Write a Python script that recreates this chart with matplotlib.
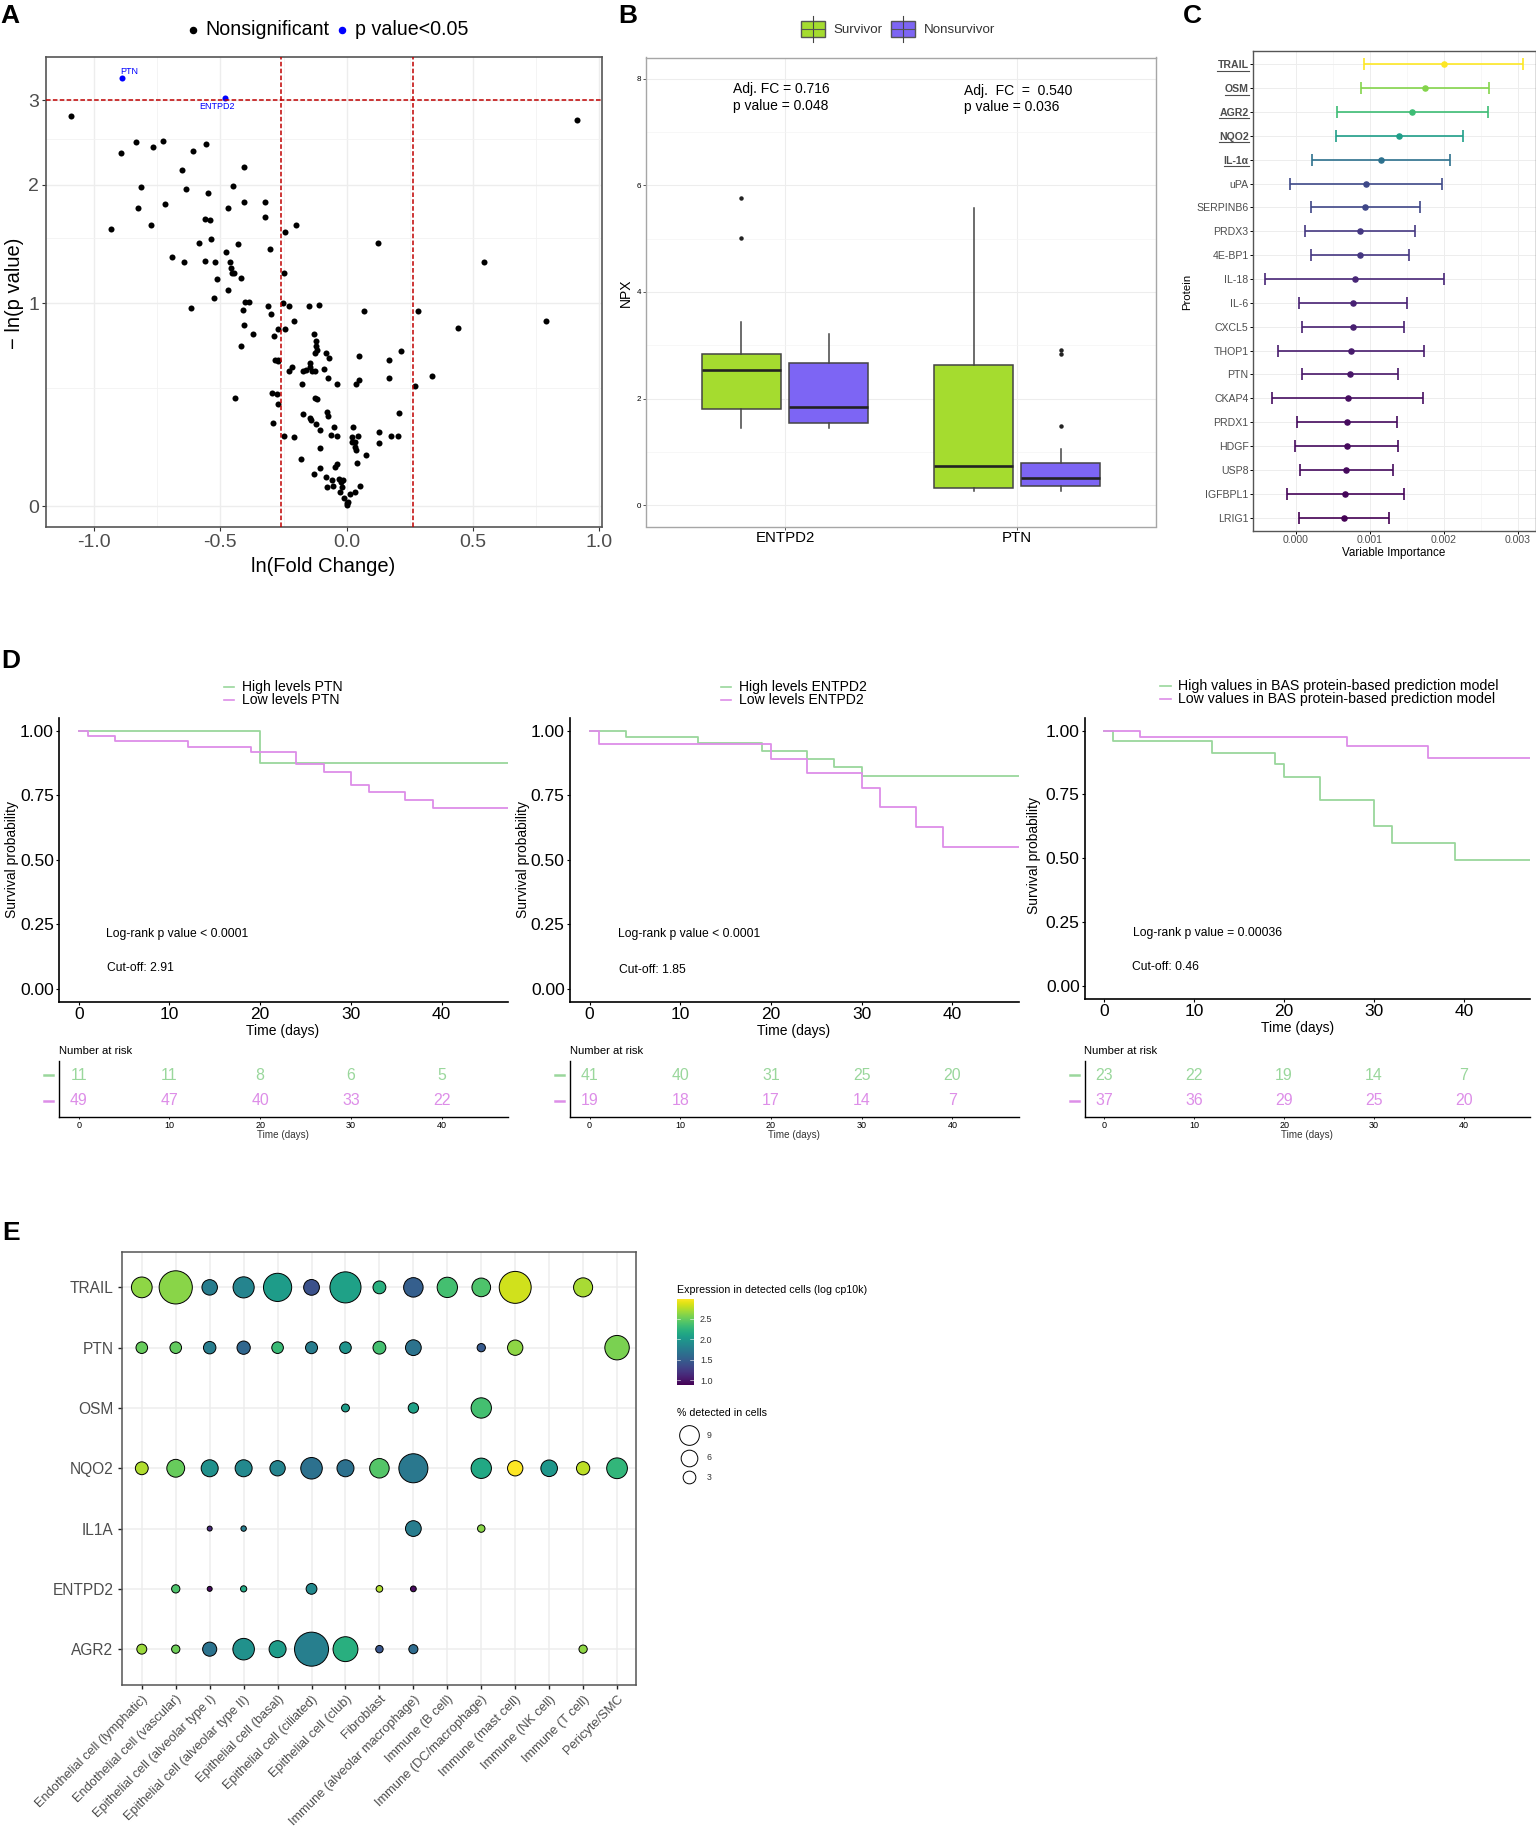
import numpy as np
import matplotlib
matplotlib.use("Agg")
import matplotlib.pyplot as plt
from matplotlib.lines import Line2D
from matplotlib.patches import Rectangle
from matplotlib.transforms import IdentityTransform

W, H = 1536, 1829
plt.rcParams["font.family"] = ["Liberation Sans", "DejaVu Sans"]

# A: volcano plot
volcano_fc = [-1.091, .912, -.834, -.728, -.765, -.556, -.892, -.610, -.651, -.407, -.449, -.814, -.635, -.549,
              -.718, -.408, -.324, -.828, -.469, -.324, -.559, -.543, -.773, -.200, -.931, -.244, -.538, -.585,
              -.432, .125, -.302, -.476, -.690, -.646, -.559, -.520, -.462, .543, -.457, -.455, -.446, -.247,
              -.512, -.419, -.471, -.526, -.402, -.388, -.254, -.108, -.311, -.230, -.150, -.617, -.412, .067,
              .282, -.299, -.207, .789, -.408, .440, -.271, -.243, -.369, -.286, -.128, -.120, -.418, -.120,
              -.119, -.124, -.083, .216, .047, -.069, -.282, -.271, -.274, .166, -.144, -.144, -.218, -.227,
              -.175, -.160, -.139, -.125, -.091, -.074, .166, .338, -.178, -.039, .050, .038, .271, -.296,
              -.277, -.443, -.127, -.116, -.274, -.078, -.074, .207, -.175, -.144, -.141, -.291, -.120, -.052,
              .025, -.106, .128, -.064, -.038, .045, .174, .202, -.249, -.207, .019, .019, .031, .128, .033,
              -.105, .036, .078, -.182, .041, -.038, -.047, -.106, -.130, -.083, -.030, -.013, -.059, -.023,
              -.017, -.055, -.077, .052, -.028, .031, .011, -.009, .006, 0.0, .003]
volcano_p = [2.786, 2.743, 2.474, 2.48, 2.41, 2.44, 2.34, 2.36, 2.15, 2.18, 1.99, 1.97, 1.95, 1.91,
             1.81, 1.83, 1.83, 1.77, 1.77, 1.69, 1.67, 1.66, 1.61, 1.61, 1.58, 1.55, 1.49, 1.46,
             1.45, 1.46, 1.41, 1.38, 1.34, 1.30, 1.31, 1.30, 1.30, 1.30, 1.26, 1.22, 1.22, 1.22,
             1.17, 1.18, 1.09, 1.04, 1.01, 1.01, 1.00, .99, .985, .985, .98, .97, .955, .95,
             .95, .93, .88, .88, .855, .84, .835, .83, .80, .79, .80, .76, .73, .73,
             .705, .69, .69, .70, .67, .66, .65, .65, .64, .65, .63, .61, .61, .59,
             .59, .595, .59, .59, .60, .55, .55, .56, .52, .52, .54, .52, .506, .475,
             .47, .45, .45, .445, .42, .38, .36, .377, .37, .354, .345, .33, .326, .31,
             .31, .30, .29, .276, .27, .273, .273, .273, .27, .268, .268, .244, .244, .242, .225,
             .22, .212, .19, .174, .159, .155, .143, .141, .118, .105, .097, .093, .093, .086,
             .070, .073, .070, .073, .050, .051, .043, .030, .015, .004, .010]
sig_names = ["PTN", "ENTPD2"]
sig_fc = [-.890, -.482]
sig_p = [3.32, 3.03]
sig_label_x = [-.895, -.582]
sig_label_y = [3.42, 2.92]

# B: boxplots
box_genes = ["ENTPD2", "PTN"]
surv_q1 = [1.81, .334]
surv_med = [2.535, .743]
surv_q3 = [2.83, 2.64]
surv_lo = [1.46, .27]
surv_hi = [3.44, 5.57]
surv_out = [[5.76, 5.02], []]
non_q1 = [1.54, .368]
non_med = [1.85, .518]
non_q3 = [2.67, .797]
non_lo = [1.46, .27]
non_hi = [3.22, 1.056]
non_out = [[], [1.48, 2.84, 2.92]]

# C: variable importance
proteins = ["TRAIL", "OSM", "AGR2", "NQO2", "IL-1α", "uPA", "SERPINB6", "PRDX3", "4E-BP1", "IL-18",
            "IL-6", "CXCL5", "THOP1", "PTN", "CKAP4", "PRDX1", "HDGF", "USP8", "IGFBPL1", "LRIG1"]
vi_low = [.000928, .000883, .000554, .000545, .000216, -.000072, .000203, .000126, .000207, -.00041,
          .000045, .00009, -.000239, .000086, -.000315, .000018, -.000005, .000059, -.000117, .000041]
vi_mean = [.0020, .001748, .001577, .001401, .001149, .00095, .000941, .000869, .000865, .000797,
           .000775, .00077, .000748, .00073, .000703, .000694, .000689, .000685, .000671, .000653]
vi_high = [.003077, .002613, .002599, .002257, .002081, .001973, .00168, .001613, .001527, .002005,
           .001509, .001464, .001734, .001378, .001725, .001374, .001383, .00132, .001464, .001266]

# D: survival curves
km1_hi_t = [0, 20]
km1_hi_s = [1.0, .875]
km1_lo_t = [0, 1, 4, 12, 19, 24, 27, 30, 32, 36, 39]
km1_lo_s = [1.0, .98, .96, .938, .916, .87, .84, .79, .763, .733, .70]
km2_hi_t = [0, 4, 12, 19, 24, 27, 30]
km2_hi_s = [1.0, .974, .951, .923, .89, .858, .825]
km2_lo_t = [0, 1, 20, 24, 30, 32, 36, 39]
km2_lo_s = [1.0, .947, .89, .835, .778, .705, .627, .55]
km3_hi_t = [0, 1, 12, 19, 20, 24, 30, 32, 39]
km3_hi_s = [1.0, .958, .913, .868, .82, .73, .625, .56, .4935]
km3_lo_t = [0, 4, 27, 36]
km3_lo_s = [1.0, .973, .938, .893]
risk_times = [0, 10, 20, 30, 40]
risk1_hi = [11, 11, 8, 6, 5]
risk1_lo = [49, 47, 40, 33, 22]
risk2_hi = [41, 40, 31, 25, 20]
risk2_lo = [19, 18, 17, 14, 7]
risk3_hi = [23, 22, 19, 14, 7]
risk3_lo = [37, 36, 29, 25, 20]

# E: dot plot
cell_types = ["Endothelial cell (lymphatic)", "Endothelial cell (vascular)", "Epithelial cell (alveolar type I)",
              "Epithelial cell (alveolar type II)", "Epithelial cell (basal)", "Epithelial cell (ciliated)",
              "Epithelial cell (club)", "Fibroblast", "Immune (alveolar macrophage)", "Immune (B cell)",
              "Immune (DC/macrophage)", "Immune (mast cell)", "Immune (NK cell)", "Immune (T cell)", "Pericyte/SMC"]
genes = ["AGR2", "ENTPD2", "IL1A", "NQO2", "OSM", "PTN", "TRAIL"]
n = None
pct_trail = [10.15, 29.6, 5.0, 10.6, 20.6, 5.22, 25.6, 3.09, 8.77, 9.69, 7.9, 27.2, n, 8.33, n]
expr_trail = [2.62, 2.6, 1.76, 1.83, 2.03, 1.41, 2.08, 2.2, 1.51, 2.35, 2.39, 2.82, n, 2.7, n]
pct_ptn = [2.35, 2.35, 2.84, 3.37, 2.35, 2.59, 2.35, 3.09, 5.22, n, .87, 4.88, n, n, 14.9]
expr_ptn = [2.49, 2.47, 1.76, 1.58, 2.3, 1.76, 1.97, 2.35, 1.68, n, 1.47, 2.62, n, n, 2.55]
pct_osm = [n, n, n, n, n, n, .74, n, 1.71, n, 9.69, n, n, n, n]
expr_osm = [n, n, n, n, n, n, 2.03, n, 2.08, n, 2.35, n, n, n, n]
pct_nqo2 = [3.09, 7.08, 6.3, 6.3, 4.88, 11.1, 6.3, 8.77, 22.0, n, 9.69, 4.88, 5.93, 3.37, 10.15]
expr_nqo2 = [2.72, 2.49, 1.93, 1.87, 1.83, 1.66, 1.66, 2.41, 1.72, n, 2.14, 2.97, 1.99, 2.76, 2.26]
pct_il1a = [n, n, .11, .17, n, n, n, n, 5.22, n, .61, n, n, n, n]
expr_il1a = [n, n, 1.14, 1.76, n, n, n, n, 1.76, n, 2.6, n, n, n, n]
pct_entpd2 = [n, .87, .11, .31, n, 1.92, n, .40, .23, n, n, n, n, n, n]
expr_entpd2 = [n, 2.39, .95, 2.14, n, 1.87, n, 2.72, .95, n, n, n, n, n, n]
pct_agr2 = [1.52, .87, 3.94, 11.1, 6.3, 31.3, 15.5, .61, 1.17, n, n, n, n, .87, n]
expr_agr2 = [2.66, 2.51, 1.68, 1.93, 2.03, 1.78, 2.2, 1.45, 1.62, n, n, n, n, 2.62, n]
size_legend = [3, 6, 9]

GREEN = "#9ad79c"
PINK = "#dd8ee8"
GRAY = "#4d4d4d"
GRID = "#ededed"
BORDER = "#555555"

fig = plt.figure(figsize=(W / 100, H / 100), dpi=100)


def px_axes(left, top, right, bottom):
    return fig.add_axes([left / W, 1 - bottom / H, (right - left) / W, (bottom - top) / H])


def ftext(x, y, s, **kw):
    # one px lower than asked, va center sits high with descenders
    kw.setdefault("va", "center")
    kw.setdefault("ha", "left")
    return fig.text(x / W, 1 - (y + 1) / H, s, **kw)


def fline(xs, ys, **kw):
    fig.add_artist(Line2D([x / W for x in xs], [1 - y / H for y in ys], transform=fig.transFigure, **kw))


def bw_style(ax, lw=1.1):
    for sp in ax.spines.values():
        sp.set_color(BORDER)
        sp.set_linewidth(lw)
    ax.set_axisbelow(True)


def dot_size(pct):
    # diameter in px against % detected, squared into points
    d = 3.14 + 5.52 * np.sqrt(pct)
    return (d * 0.72) ** 2


for lab, x, y in [("A", 0, 15), ("B", 618, 15), ("C", 1183, 15), ("D", 1, 660), ("E", 2, 1232)]:
    ftext(x, y, lab, fontsize=19, fontweight="bold", color="black")

# panel A
ax = px_axes(46.3, 56.8, 602.2, 526.7)
bw_style(ax, 1.2)
ax.set_yscale("function", functions=(np.log1p, np.expm1))
ax.scatter(volcano_fc, volcano_p, s=19, color="black", linewidths=0, zorder=3)
ax.scatter(sig_fc, sig_p, s=19, color="#0000ff", linewidths=0, zorder=3)
for name, lx, ly in zip(sig_names, sig_label_x, sig_label_y):
    ax.text(lx, ly, name, color="#0000ff", fontsize=6.5, va="center", ha="left")
ax.axhline(3, color="#c00000", ls="--", lw=1.1, dashes=(3, 1.5), zorder=4)
ax.axvline(-.261, color="#c00000", ls="--", lw=1.1, dashes=(3, 1.5), zorder=4)
ax.axvline(.263, color="#c00000", ls="--", lw=1.1, dashes=(3, 1.5), zorder=4)
ax.set_xlim(-1.189, 1.011)
ax.set_ylim(-0.067, 3.64)
ax.set_xticks([-1, -.5, 0, .5, 1], ["-1.0", "-0.5", "0.0", "0.5", "1.0"])
ax.set_yticks([0, 1, 2, 3])
ax.set_xticks([-.75, -.25, .25, .75], minor=True)
ax.set_yticks([.5, 1.5, 2.5], minor=True)
ax.tick_params(which="major", labelsize=14, labelcolor=GRAY, length=3, width=.8, color="#333333", pad=2)
ax.tick_params(which="minor", length=0)
ax.grid(True, which="major", color=GRID, lw=1)
ax.grid(True, which="minor", color="#f2f2f2", lw=.6)
ax.set_axisbelow(True)
ftext(323.5, 565, "ln(Fold Change)", fontsize=14.5, ha="center")
ftext(15, 292, "− ln(p value)", fontsize=14.5, ha="center", rotation=90)
fig.add_artist(Line2D([192.6 / W], [1 - 29.6 / H], marker="o", ms=4.4, color="black", ls="", transform=fig.transFigure))
ftext(205, 28.6, "Nonsignificant", fontsize=14.1)
fig.add_artist(Line2D([342.4 / W], [1 - 29.6 / H], marker="o", ms=4.4, color="#0000ff", ls="", transform=fig.transFigure))
ftext(355, 28.6, "p value<0.05", fontsize=14.1)

# panel B
ax = px_axes(645.7, 57.5, 1156.4, 526.5)
ax.set_axisbelow(True)
ax.spines[:].set_color("#a6a6a6")
ax.spines[:].set_linewidth(1.0)
for q1, med, q3, lo, hi, out, off, col in [
        (surv_q1, surv_med, surv_q3, surv_lo, surv_hi, surv_out, -.1875, "#a5dc2f"),
        (non_q1, non_med, non_q3, non_lo, non_hi, non_out, .1875, "#7d65f4")]:
    stats = [dict(med=med[i], q1=q1[i], q3=q3[i], whislo=lo[i], whishi=hi[i], fliers=out[i]) for i in range(2)]
    ax.bxp(stats, positions=[1 + off, 2 + off], widths=.3375, patch_artist=True, showcaps=False,
           boxprops=dict(facecolor=col, edgecolor="#444444", lw=1.1),
           medianprops=dict(color="#222222", lw=1.9),
           whiskerprops=dict(color="#444444", lw=1.1),
           flierprops=dict(marker="o", ms=2.2, mfc="#222222", mec="#222222"),
           manage_ticks=False, zorder=3)
ax.text(.776, 7.80, "Adj. FC = 0.716", fontsize=10, va="center")
ax.text(.776, 7.48, "p value = 0.048", fontsize=10, va="center")
ax.text(1.773, 7.77, "Adj.  FC  =  0.540", fontsize=10, va="center")
ax.text(1.773, 7.46, "p value = 0.036", fontsize=10, va="center")
ax.set_xlim(.4, 2.6)
ax.set_ylim(-.395, 8.395)
ax.set_xticks([1, 2], box_genes)
ax.set_yticks([0, 2, 4, 6, 8])
ax.set_yticks([1, 3, 5, 7], minor=True)
ax.tick_params(axis="x", labelsize=10.8, length=2, width=.7, color="#555555", pad=1.5)
ax.tick_params(axis="y", labelsize=5.8, length=2, width=.7, color="#555555", pad=1.5)
ax.tick_params(which="minor", length=0)
ax.grid(True, which="major", color=GRID, lw=.8)
ax.grid(True, which="minor", axis="y", color="#f4f4f4", lw=.5)
ftext(626, 292, "NPX", fontsize=10, ha="center", rotation=90)
for x0, col, name, tx in [(800.7, "#a5dc2f", "Survivor", 833), (891, "#7d65f4", "Nonsurvivor", 923.6)]:
    fline([x0 + 12, x0 + 12], [15.6, 41.8], color="#444444", lw=.8)
    fig.add_artist(Rectangle((x0 / W, 1 - 37 / H), 24 / W, 16.3 / H, facecolor=col, edgecolor="#555555", lw=1,
                             transform=fig.transFigure))
    fline([x0, x0 + 24], [28.8, 28.8], color="#555555", lw=.8)
    ftext(tx, 28.7, name, fontsize=9.6, color="#333333")

# panel C
ax = px_axes(1252.7, 50.9, 1536, 531)
bw_style(ax, 1.0)
ypos = list(range(len(proteins), 0, -1))
norm = plt.Normalize(min(vi_mean), max(vi_mean))
for y, lo, m, hi in zip(ypos, vi_low, vi_mean, vi_high):
    c = plt.cm.viridis(norm(m))
    ax.errorbar(m, y, xerr=[[m - lo], [hi - m]], color=c, lw=1.2, capsize=4.6, capthick=1.2,
                marker="o", ms=3.7, zorder=3)
ax.set_xlim(-.000581, .00325)
ax.set_ylim(.44, 20.56)
ax.set_yticks(ypos, proteins)
ax.set_xticks([0, .001, .002, .003], ["0.000", "0.001", "0.002", "0.003"])
ax.set_xticks([.0005, .0015, .0025], minor=True)
ax.tick_params(labelsize=7.6, labelcolor=GRAY, length=2, width=.7, pad=1)
ax.tick_params(which="minor", length=0)
ax.grid(True, which="major", color=GRID, lw=.7)
ax.grid(True, which="minor", color="#f2f2f2", lw=.4)
c_labels = ax.get_yticklabels()
for lab in c_labels[:5]:
    lab.set_fontweight("bold")
ftext(1394, 551.6, "Variable Importance", fontsize=8.4, ha="center")
ftext(1187, 291, "Protein", fontsize=8.2, ha="center", rotation=90)

# panel D
km_panels = [
    dict(left=58.8, right=507.8, bottom=1001.7, y0=-.049, hi=(km1_hi_t, km1_hi_s), lo=(km1_lo_t, km1_lo_s),
         risk=(risk1_hi, risk1_lo), leg=["High levels PTN", "Low levels PTN"], key=223.5, legx=242.4, legy=(685.7, 699),
         pv="Log-rank p value < 0.0001", pvx=105.8, pvy=932.7, cut="Cut-off: 2.91", cutx=106.8, cuty=967.3, labx=12, laby=859,
         xlabx=283, xlaby=1030.3, legfs=10.1),
    dict(left=569.6, right=1018.6, bottom=1001.7, y0=-.049, hi=(km2_hi_t, km2_hi_s), lo=(km2_lo_t, km2_lo_s),
         risk=(risk2_hi, risk2_lo), leg=["High levels ENTPD2", "Low levels ENTPD2"], key=721, legx=739.3, legy=(685.7, 699),
         pv="Log-rank p value < 0.0001", pvx=617.6, pvy=932.7, cut="Cut-off: 1.85", cutx=619.3, cuty=969, labx=523, laby=859,
         xlabx=794, xlaby=1030.3, legfs=10.1),
    dict(left=1084.5, right=1529.6, bottom=999, y0=-.051, hi=(km3_hi_t, km3_hi_s), lo=(km3_lo_t, km3_lo_s),
         risk=(risk3_hi, risk3_lo), leg=["High values in BAS protein-based prediction model",
                                         "Low values in BAS protein-based prediction model"],
         key=1160.3, legx=1177.7, legy=(684.7, 698.3),
         pv="Log-rank p value = 0.00036", pvx=1133.4, pvy=932.4, cut="Cut-off: 0.46", cutx=1132.4, cuty=965.7, labx=1034, laby=855,
         xlabx=1298, xlaby=1026.7, legfs=10.2),
]
for p in km_panels:
    ax = px_axes(p["left"], 718.3, p["right"], p["bottom"])
    for s in ["top", "right"]:
        ax.spines[s].set_visible(False)
    for s in ["left", "bottom"]:
        ax.spines[s].set_linewidth(1.2)
    ax.step(list(p["hi"][0]) + [48], list(p["hi"][1]) + [p["hi"][1][-1]], where="post", color=GREEN, lw=1.3)
    ax.step(list(p["lo"][0]) + [48], list(p["lo"][1]) + [p["lo"][1][-1]], where="post", color=PINK, lw=1.3)
    ax.set_xlim(-2.2, 47.3)
    ax.set_ylim(p["y0"], 1.048)
    ax.set_xticks(risk_times)
    ax.set_yticks([0, .25, .5, .75, 1], ["0.00", "0.25", "0.50", "0.75", "1.00"])
    ax.tick_params(labelsize=12.5, length=2, width=.8, pad=1.5)
    ftext(p["xlabx"], p["xlaby"], "Time (days)", fontsize=10, ha="center")
    ftext(p["labx"], p["laby"], "Survival probability", fontsize=10, ha="center", rotation=90)
    ftext(p["pvx"], p["pvy"], p["pv"], fontsize=8.7)
    ftext(p["cutx"], p["cuty"], p["cut"], fontsize=8.7)
    for yy, col, name in zip(p["legy"], [GREEN, PINK], p["leg"]):
        fline([p["key"], p["key"] + 10.3], [yy + 1, yy + 1], color=col, lw=1.2)
        ftext(p["legx"], yy, name, fontsize=p["legfs"])

    # number at risk table under each curve
    ax = px_axes(p["left"], 1060.7, p["right"], 1116.7)
    for s in ["top", "right"]:
        ax.spines[s].set_visible(False)
    for s in ["left", "bottom"]:
        ax.spines[s].set_linewidth(1.0)
    for t, a, b in zip(risk_times, p["risk"][0], p["risk"][1]):
        ax.text(t, 2, str(a), color=GREEN, fontsize=11.4, ha="center", va="center")
        ax.text(t, 1, str(b), color=PINK, fontsize=11.4, ha="center", va="center")
    ax.set_xlim(-2.2, 47.3)
    ax.set_ylim(.38, 2.59)
    ax.set_xticks(risk_times)
    ax.set_yticks([])
    ax.tick_params(axis="x", labelsize=6.5, length=1.5, width=.6, pad=1.5)
    # strata keys are short thick dashes clear of the axis
    fline([p["left"] - 14.8, p["left"] - 5.4], [1075.3, 1075.3], color=GREEN, lw=1.8)
    fline([p["left"] - 14.8, p["left"] - 5.4], [1100.7, 1100.7], color=PINK, lw=1.8)
    ftext(p["left"], 1050, "Number at risk", fontsize=8.1)
    ftext((p["left"] + p["right"]) / 2, 1134, "Time (days)", fontsize=7.1, ha="center", color="#333333")

# panel E
ax = px_axes(121.9, 1251.8, 636.4, 1684.5)
bw_style(ax, 1.1)
rows = [(pct_agr2, expr_agr2), (pct_entpd2, expr_entpd2), (pct_il1a, expr_il1a), (pct_nqo2, expr_nqo2),
        (pct_osm, expr_osm), (pct_ptn, expr_ptn), (pct_trail, expr_trail)]
vmin, vmax = .89, 2.97
for j, (pct, expr) in enumerate(rows):
    xs = [i + 1 for i in range(15) if pct[i] is not None]
    ss = [dot_size(pct[i]) for i in range(15) if pct[i] is not None]
    cs = [expr[i] for i in range(15) if pct[i] is not None]
    ax.scatter(xs, [j + 1] * len(xs), s=ss, c=cs, cmap="viridis", vmin=vmin, vmax=vmax,
               edgecolors="black", linewidths=.7, zorder=3)
ax.set_xlim(.414, 15.57)
ax.set_ylim(.414, 7.59)
ax.set_xticks(range(1, 16))
ax.set_xticklabels(cell_types, rotation=45, ha="right", va="top", rotation_mode="anchor", fontsize=9.3, color=GRAY)
ax.set_yticks(range(1, 8), genes)
ax.tick_params(axis="y", labelsize=11.2, labelcolor=GRAY)
ax.tick_params(length=3.2, width=1, color="#222222", pad=3)
ax.grid(True, color=GRID, lw=1.1)
ax.set_axisbelow(True)

# panel E legends
ftext(676.7, 1289.3, "Expression in detected cells (log cp10k)", fontsize=7.7)
cax = px_axes(676.7, 1299.3, 693.7, 1385)
grad = np.linspace(vmin, vmax, 256)[:, None]
cax.imshow(grad, aspect="auto", origin="lower", cmap="viridis", extent=[0, 1, vmin, vmax])
cax.set_xticks([])
cax.set_yticks([1, 1.5, 2, 2.5], ["1.0", "1.5", "2.0", "2.5"])
cax.yaxis.tick_right()
cax.tick_params(axis="y", labelsize=6.5, length=0, pad=4.5, labelcolor="#333333")
for sp in cax.spines.values():
    sp.set_visible(False)
for v in [1, 1.5, 2, 2.5]:
    cax.plot([0, .2], [v, v], color="white", lw=.4)
    cax.plot([.8, 1], [v, v], color="white", lw=.4)
cax.set_xlim(0, 1)
cax.set_ylim(vmin, vmax)
ftext(676.7, 1412.3, "% detected in cells", fontsize=7.7)
sax = px_axes(676.7, 1424, 720, 1488)
sax.axis("off")
sax.set_xlim(0, 1)
sax.set_ylim(0, 1)
for pc, pixel_y in zip(size_legend, [1477, 1458, 1435]):
    yy = (1488 - pixel_y) / 64
    sax.scatter([.277], [yy], s=dot_size(pc), facecolors="white", edgecolors="black", linewidths=.7, clip_on=False)
    sax.text(.739, yy, str(pc), fontsize=6.3, ha="center", va="center", color="#333333")

# underlines for the bold protein names, needs the text extents
fig.canvas.draw()
for lab in c_labels[:5]:
    bb = lab.get_window_extent()
    fig.add_artist(Line2D([bb.x0, bb.x1], [bb.y0 - .5, bb.y0 - .5], transform=IdentityTransform(), color=GRAY, lw=.8))

fig.savefig("out.png", dpi=100)
